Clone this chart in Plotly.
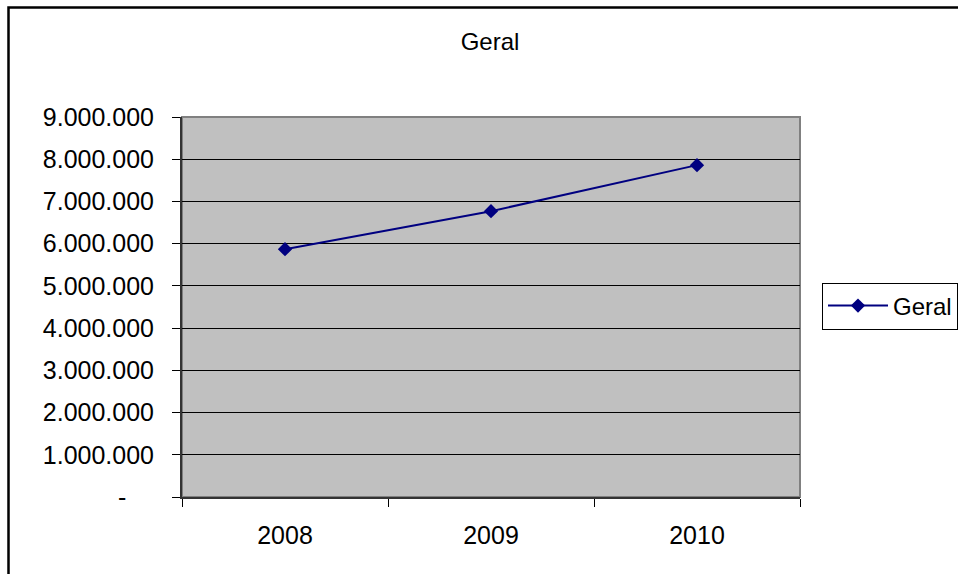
import plotly.graph_objects as go

# Annual totals
years = ["2008", "2009", "2010"]
geral = [5870000, 6770000, 7860000]

# Y axis ticks (Brazilian thousands separator, zero shown as a dash)
y_ticks = [0, 1000000, 2000000, 3000000, 4000000, 5000000, 6000000, 7000000, 8000000, 9000000]


def fmt(v):
    if v == 0:
        return "-" + "\u00a0" * 4
    return f"{v:,}".replace(",", ".")


y_labels = [fmt(v) for v in y_ticks]

FONT = "Arial, 'Liberation Sans', sans-serif"
NAVY = "#000080"

fig = go.Figure()
fig.add_trace(go.Scatter(
    x=years, y=geral, name="Geral",
    mode="lines+markers",
    line=dict(color=NAVY, width=2),
    marker=dict(symbol="diamond", size=11, color=NAVY),
))

fig.update_layout(
    width=958, height=574,
    margin=dict(l=182, r=158, t=117, b=77, autoexpand=False),
    paper_bgcolor="white",
    plot_bgcolor="#C0C0C0",
    font=dict(family=FONT, size=24, color="black"),
    title=dict(text="Geral", x=(490) / 958, xanchor="center",
               y=1 - 42 / 574, yanchor="middle",
               font=dict(family=FONT, size=24, color="black")),
    showlegend=True,
    legend=dict(
        x=(822 - 182) / 618, xanchor="left", y=0.5026, yanchor="middle",
        bordercolor="black", borderwidth=1, bgcolor="white",
        font=dict(family=FONT, size=24, color="black"),
        itemwidth=60,
    ),
    xaxis=dict(
        type="category", tickson="boundaries", range=[-0.5, 2.5],
        ticks="outside", ticklen=8, tickcolor="black", tickwidth=1,
        showline=True, linecolor="#333333", linewidth=2,
        showgrid=False, zeroline=False,
        tickfont=dict(family=FONT, size=25, color="black"),
        ticklabelstandoff=15,
    ),
    yaxis=dict(
        range=[0, 9000000], tickvals=y_ticks, ticktext=y_labels,
        ticks="outside", ticklen=8, tickcolor="black", tickwidth=1,
        showline=True, linecolor="#333333", linewidth=2,
        showgrid=True, gridcolor="black", gridwidth=1,
        zeroline=False, ticklabelstandoff=13,
        tickfont=dict(family=FONT, size=25, color="black"),
    ),
    shapes=[
        # gray frame of the plotting area (top and right edges)
        dict(type="rect", xref="paper", yref="paper", x0=0, x1=1, y0=0, y1=1,
             line=dict(color="#808080", width=2), layer="below"),
        # outer chart frame
        dict(type="rect", xref="paper", yref="paper",
             x0=(8.5 - 182) / 618, x1=1.5, y0=-0.5, y1=(497 - 7.5) / 380,
             line=dict(color="black", width=2.5)),
    ],
)

fig.write_html("out.html")
